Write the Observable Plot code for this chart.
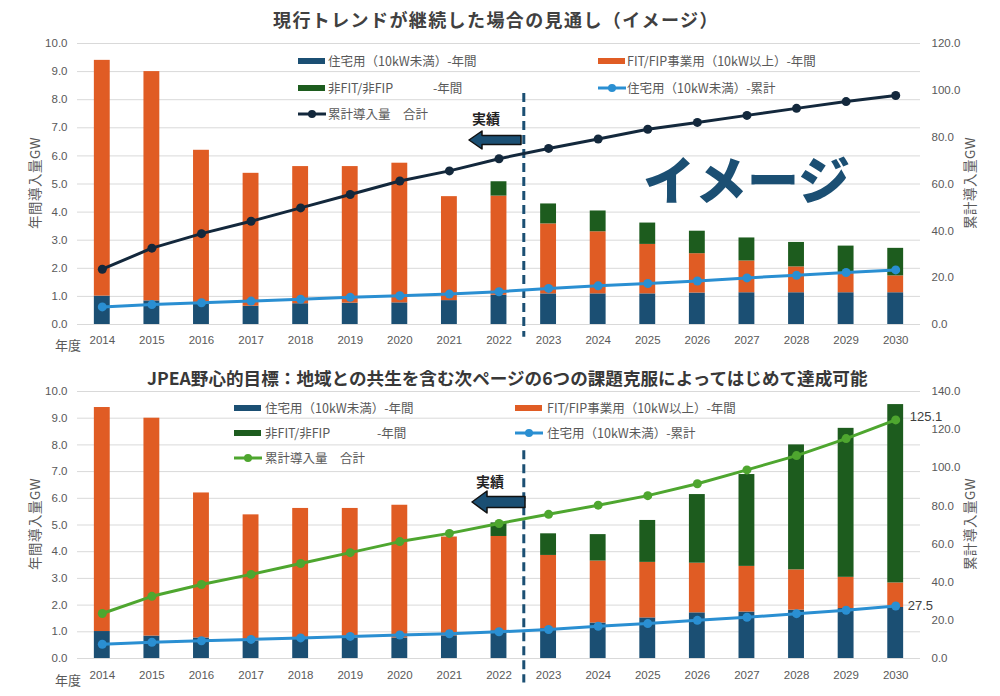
<!DOCTYPE html>
<html><head><meta charset="utf-8">
<script src="https://cdn.jsdelivr.net/npm/d3@7"></script>
<script src="https://cdn.jsdelivr.net/npm/@observablehq/plot@0.6"></script>
<style>
body{margin:0;background:#fff;}
#root{position:relative;width:1000px;height:696px;overflow:hidden;font-family:"Noto Sans CJK JP","Noto Sans",sans-serif;}
.abs{position:absolute;white-space:nowrap;line-height:1;}
.panel{position:absolute;left:0;}
.lg{color:#595959;font-size:12.5px;transform:translateY(-50%);}
.sw{position:absolute;width:27px;height:6px;transform:translateY(-50%);}
</style></head><body><div id="root"></div>
<script>
// ---------- data ----------
const years = ["2014","2015","2016","2017","2018","2019","2020","2021","2022","2023","2024","2025","2026","2027","2028","2029","2030"];
const seriesNames = ["住宅用（10kW未満）-年間","FIT/FIP事業用（10kW以上）-年間","非FIT/非FIP -年間"];
const seriesColors = ["#1b4f73","#e05c24","#1d5c1e"];

// 現行トレンド (top)
const trendResidential = [1.01,0.84,0.77,0.65,0.74,0.76,0.77,0.85,1.04,1.09,1.09,1.09,1.12,1.13,1.13,1.13,1.13];
const trendFit         = [8.39,8.16,5.43,4.73,4.88,4.86,4.97,3.70,3.53,2.49,2.21,1.76,1.40,1.13,0.92,0.72,0.60];
const trendNonFit      = [0,0,0,0,0,0,0,0,0.51,0.71,0.74,0.76,0.80,0.82,0.87,0.94,0.98];
const trendCumTotal    = [23.6,32.6,38.8,44.1,49.8,55.5,61.3,65.6,70.8,75.2,79.2,83.4,86.3,89.3,92.3,95.2,97.8];
const trendCumResidential = [7.5,8.5,9.3,10.0,10.8,11.6,12.3,13.0,14.0,15.4,16.5,17.5,18.6,19.9,21.0,22.2,23.3];

// JPEA野心的目標 (bottom)
const jpeaResidential = [1.01,0.84,0.77,0.65,0.74,0.76,0.77,0.85,1.04,1.12,1.33,1.52,1.71,1.74,1.81,1.87,1.91];
const jpeaFit         = [8.39,8.16,5.43,4.73,4.88,4.86,4.97,3.70,3.53,2.74,2.32,2.08,1.86,1.71,1.51,1.17,0.92];
const jpeaNonFit      = [0,0,0,0,0,0,0,0,0.51,0.81,0.99,1.57,2.57,3.44,4.68,5.58,6.68];
const jpeaCumTotal    = [23.6,32.6,38.8,44.1,49.8,55.5,61.3,65.6,70.8,75.6,80.4,85.4,91.6,98.9,106.4,115.3,125.1];
const jpeaCumResidential = [7.5,8.5,9.3,10.0,10.8,11.6,12.3,13.0,14.0,15.2,16.9,18.3,20.0,21.6,23.5,25.3,27.5];

const leftTicks = [0,1,2,3,4,5,6,7,8,9,10];
const trendRightTicks = [0,20,40,60,80,100,120];
const jpeaRightTicks = [0,20,40,60,80,100,120,140];

const root = document.getElementById("root");
const FONT_NUM = "'Liberation Sans','DejaVu Sans',sans-serif";

function makePanel(o) {
  const rows = [];
  years.forEach((y, i) => {
    rows.push({year: y, series: seriesNames[0], value: o.res[i]});
    rows.push({year: y, series: seriesNames[1], value: o.fit[i]});
    rows.push({year: y, series: seriesNames[2], value: o.nonfit[i]});
  });
  const lines = years.map((y, i) => ({year: y, total: o.cumTotal[i] / o.ratio, res: o.cumRes[i] / o.ratio, totalRaw: o.cumTotal[i], resRaw: o.cumRes[i]}));
  const last = lines.slice(-1);
  const step = (1000 - 77 - 80) / years.length;
  const marks = [
    Plot.gridY(leftTicks, {stroke: "#d9d9d9", strokeOpacity: 1, strokeWidth: 1}),
    Plot.axisY(leftTicks, {anchor: "left", tickSize: 0, tickPadding: 10, tickFormat: d => d.toFixed(1), label: null, fontFamily: FONT_NUM, fontSize: 11.5}),
    Plot.axisY(o.rightTicks.map(v => v / o.ratio), {anchor: "right", tickSize: 0, tickPadding: 11, tickFormat: d => (d * o.ratio).toFixed(1), label: null, fontFamily: FONT_NUM, fontSize: 11.5}),
    Plot.axisX({anchor: "bottom", tickSize: 0, tickPadding: o.xPad, label: null, fontFamily: FONT_NUM, fontSize: 11.5}),
    Plot.barY(rows, {x: "year", y: "value", fill: "series", order: seriesNames}),
    Plot.ruleX(["2023"], {dx: -step / 2, y1: o.divider[0], y2: o.divider[1], stroke: "#1b4f73", strokeWidth: 3, strokeDasharray: "9,5"}),
    Plot.line(lines, {x: "year", y: "total", stroke: o.totalColor, strokeWidth: 3}),
    Plot.dot(lines, {x: "year", y: "total", fill: o.totalColor, r: 4.5}),
    Plot.line(lines, {x: "year", y: "res", stroke: "#2a8fd2", strokeWidth: 3}),
    Plot.dot(lines, {x: "year", y: "res", fill: "#2a8fd2", r: 4.5})
  ];
  if (o.labels) {
    marks.push(Plot.text(last, {x: "year", y: "total", text: d => d.totalRaw.toFixed(1), dx: 14, dy: -3, textAnchor: "start", fill: "#404040", fontSize: 13, fontFamily: FONT_NUM}));
    marks.push(Plot.text(last, {x: "year", y: "res", text: d => d.resRaw.toFixed(1), dx: 12, textAnchor: "start", fill: "#404040", fontSize: 13, fontFamily: FONT_NUM}));
  }
  const svg = Plot.plot({
    width: 1000, height: o.height,
    marginTop: o.marginTop, marginBottom: o.marginBottom, marginLeft: 77, marginRight: 80,
    style: {fontFamily: FONT_NUM, fontSize: "11.5px", color: "#595959", background: "transparent", overflow: "visible"},
    x: {type: "band", domain: years, paddingInner: 0.68, paddingOuter: 0.34, align: 0.5, round: false, axis: null},
    y: {domain: [0, 10], axis: null},
    color: {domain: seriesNames, range: seriesColors},
    marks
  });
  const wrap = document.createElement("div");
  wrap.className = "panel";
  wrap.style.top = o.top + "px";
  wrap.appendChild(svg);
  root.appendChild(wrap);
}

makePanel({res: trendResidential, fit: trendFit, nonfit: trendNonFit, cumTotal: trendCumTotal, cumRes: trendCumResidential,
  ratio: 12, rightTicks: trendRightTicks, totalColor: "#13283c", top: 0, height: 352, marginTop: 43, marginBottom: 28, xPad: 11,
  divider: [8.22, -0.45], labels: false});
makePanel({res: jpeaResidential, fit: jpeaFit, nonfit: jpeaNonFit, cumTotal: jpeaCumTotal, cumRes: jpeaCumResidential,
  ratio: 14, rightTicks: jpeaRightTicks, totalColor: "#4ea62f", top: 360, height: 336, marginTop: 31, marginBottom: 38, xPad: 12,
  divider: [7.78, -0.92], labels: true});

// ---------- overlays (titles, legends, annotations) ----------
function add(html, left, top, css) {
  const d = document.createElement("div");
  d.className = "abs";
  d.innerHTML = html;
  d.style.left = left + "px";
  d.style.top = top + "px";
  Object.assign(d.style, css || {});
  root.appendChild(d);
  return d;
}
// titles
add("現行トレンドが継続した場合の見通し（イメージ）", 273, 19, {fontSize: "18px", fontWeight: "bold", color: "#404040", letterSpacing: "1.4px", transform: "translateY(-50%)"});
add("JPEA野心的目標：地域との共生を含む次ページの6つの課題克服によってはじめて達成可能", 147, 378, {fontSize: "17.6px", fontWeight: "bold", color: "#383838", transform: "translateY(-50%)"});

// axis titles
function vlabel(text, cx, cy) {
  add(text, cx, cy, {fontSize: "13.5px", color: "#595959", transform: "translate(-50%,-50%) rotate(-90deg)", letterSpacing: "0.5px"});
}
vlabel("年間導入量GW", 35, 183);
vlabel("累計導入量GW", 970, 183);
vlabel("年間導入量GW", 35, 524);
vlabel("累計導入量GW", 970, 524);
add("年度", 55, 344, {fontSize: "13px", color: "#595959", transform: "translateY(-50%)"});
add("年度", 55, 679, {fontSize: "13px", color: "#595959", transform: "translateY(-50%)"});

// legends
function swatch(x, y, color) {
  const d = document.createElement("div");
  d.className = "sw";
  d.style.left = x + "px"; d.style.top = y + "px"; d.style.background = color;
  root.appendChild(d);
}
function lineSwatch(x, y, color) {
  add(`<svg width="28" height="10" style="display:block"><line x1="0" y1="5" x2="28" y2="5" stroke="${color}" stroke-width="3"/><circle cx="14" cy="5" r="4" fill="${color}"/></svg>`, x, y, {transform: "translateY(-50%)"});
}
function legend(o) {
  swatch(o.x1, o.r1, seriesColors[0]);
  add("住宅用（10kW未満）-年間", o.t1, o.r1, {}).className = "abs lg";
  swatch(o.x2, o.r1, seriesColors[1]);
  add("FIT/FIP事業用（10kW以上）-年間", o.t2, o.r1, {}).className = "abs lg";
  swatch(o.x1, o.r2, seriesColors[2]);
  add("非FIT/非FIP", o.t1, o.r2, {}).className = "abs lg";
  add("-年間", o.nf, o.r2, {}).className = "abs lg";
  lineSwatch(o.x2, o.r2, "#2a8fd2");
  add("住宅用（10kW未満）-累計", o.t2, o.r2, {}).className = "abs lg";
  lineSwatch(o.x1, o.r3, o.totalColor);
  add("累計導入量　合計", o.t1, o.r3, {}).className = "abs lg";
}
legend({x1: 298, t1: 328, x2: 598, t2: 627, r1: 61, r2: 88, r3: 114, nf: 433, totalColor: "#13283c"});
legend({x1: 234, t1: 265, x2: 515, t2: 547, r1: 408, r2: 433, r3: 458, nf: 377, totalColor: "#4ea62f"});

// 実績 + arrows
add("実績", 472, 118, {fontSize: "14px", fontWeight: "bold", color: "#222", transform: "translateY(-50%)"});
add("実績", 476, 481, {fontSize: "14px", fontWeight: "bold", color: "#222", transform: "translateY(-50%)"});
add(`<svg width="60" height="24" style="display:block"><polygon points="2,12 15,3 15,7.5 54,7.5 54,16.5 15,16.5 15,21" fill="#1b4f73" stroke="#111" stroke-width="1.5" stroke-linejoin="round"/></svg>`, 467, 128, {});
add(`<svg width="62" height="28" style="display:block"><polygon points="2,14 17,3 17,8.5 55,8.5 55,19.5 17,19.5 17,25" fill="#1b4f73" stroke="#111" stroke-width="1.5" stroke-linejoin="round"/></svg>`, 470, 488, {});

// イメージ
add("イメージ", 643, 178, {fontSize: "52px", fontWeight: "900", color: "#1b4f73", transform: "translateY(-50%)"});
</script>
</body></html>
